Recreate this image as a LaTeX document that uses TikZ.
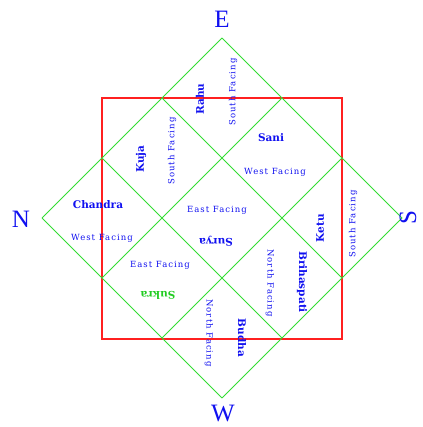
\documentclass[tikz,border=0pt]{standalone}
\usepackage{fontspec}
\setmainfont{Liberation Serif}
\newfontfamily\namefont{DejaVu Serif}
\newfontfamily\facefont[LetterSpace=12]{DejaVu Serif}
\definecolor{cGrid}{HTML}{33DD33}
\definecolor{cFrame}{HTML}{FF2020}
\definecolor{cInk}{HTML}{1010F0}
\definecolor{cSuk}{HTML}{22CC22}

\begin{document}
\begin{tikzpicture}[x=1pt, y=-1pt,
  gridline/.style={draw=cGrid, line width=0.9pt},
  frame/.style={draw=cFrame, line width=1.4pt},
  planet/.style={text=#1, font=\namefont\bfseries\fontsize{10.5}{12}\selectfont, inner sep=0pt},
  facing/.style={text=cInk, font=\facefont\fontsize{8.5}{9}\selectfont, inner sep=0pt},
  compass/.style={text=cInk, font=\fontsize{25}{28}\selectfont, inner sep=0pt}]
  \useasboundingbox (0,0) rectangle (422,427);
  % outer corners and the thirds of each edge
  \coordinate (T) at (222,38);  \coordinate (L) at (42,218);
  \coordinate (R) at (402,218); \coordinate (B) at (222,398);
  \coordinate (tl1) at (162,98);  \coordinate (tl2) at (102,158);
  \coordinate (tr1) at (282,98);  \coordinate (tr2) at (342,158);
  \coordinate (bl1) at (102,278); \coordinate (bl2) at (162,338);
  \coordinate (br1) at (342,278); \coordinate (br2) at (282,338);
  \draw[frame] (102,98) rectangle (342,339);
  \foreach \a/\b in {T/R, tl1/br1, tl2/br2, L/B, T/L, tr1/bl1, tr2/bl2, R/B}
    \draw[gridline] (\a) -- (\b);
  \foreach \n/\x/\y/\rot/\col/\lab in {rahu/200/99/90/cInk/Rahu, kuja/141/159/90/cInk/Kuja,
      sani/271/138/0/cInk/Sani, chandra/98/205/0/cInk/Chandra, surya/216/241/180/cInk/Surya,
      sukra/158/295/180/cSuk/Sukra, ketu/320/228/90/cInk/Ketu,
      guru/302/282/-90/cInk/Brihaspati, budha/242/338/-90/cInk/Budha}
    \node[planet=\col, rotate=\rot] (\n) at (\x,\y) {\lab};
  \foreach \n/\x/\y/\rot/\lab in {rahuF/233/92/90/South Facing, kujaF/172/151/90/South Facing,
      saniF/275/172/0/West Facing, chandraF/102/238/0/West Facing, suryaF/217/210/0/East Facing,
      sukraF/160/265/0/East Facing, ketuF/353/224/90/South Facing,
      guruF/270/283/-90/North Facing, budhaF/209/333/-90/North Facing}
    \node[facing, rotate=\rot] (\n) at (\x,\y) {\lab};
  \node[compass] (east) at (222,19) {E};
  \node[compass] (west) at (223,413) {W};
  \node[compass] (north) at (21,219) {N};
  \node[compass, rotate=90] (south) at (408,218) {S};
\end{tikzpicture}
\end{document}
